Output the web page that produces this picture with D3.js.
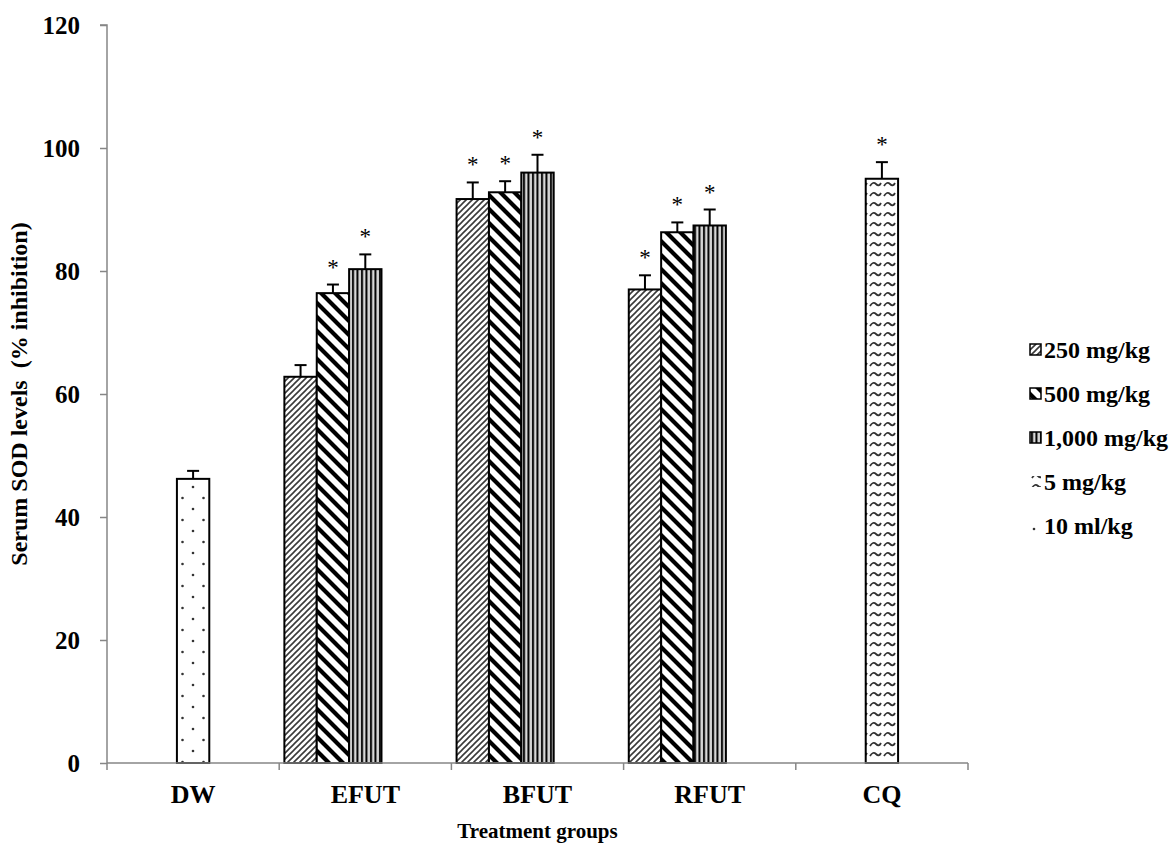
<!DOCTYPE html>
<html>
<head>
<meta charset="utf-8">
<script src="https://cdn.jsdelivr.net/npm/d3@7"></script>
<style>
  body { margin: 0; background: #fff; }
  text { font-family: "Liberation Serif", "Times New Roman", serif; }
</style>
</head>
<body>
<svg id="chart" width="1169" height="846"></svg>
<script>
let axisGray = "#868686";

// data
const groups = ["DW", "EFUT", "BFUT", "RFUT", "CQ"];
const seriesNames = ["250 mg/kg", "500 mg/kg", "1,000 mg/kg", "5 mg/kg", "10 ml/kg"];
const yTicks = [0, 20, 40, 60, 80, 100, 120];

const v250 = [null, 62.8, 91.7, 77.0, null];
const v500 = [null, 76.4, 92.8, 86.3, null];
const v1000 = [null, 80.3, 96.0, 87.4, null];
const v5 = [null, null, null, null, 95.0];
const v10 = [46.2, null, null, null, null];

const e250 = [null, 1.9, 2.7, 2.3, null];
const e500 = [null, 1.4, 1.8, 1.6, null];
const e1000 = [null, 2.4, 2.9, 2.6, null];
const e5 = [null, null, null, null, 2.7];
const e10 = [1.3, null, null, null, null];

const s250 = [false, false, true, true, false];
const s500 = [false, true, true, true, false];
const s1000 = [false, true, true, true, false];
const s5 = [false, false, false, false, true];
const s10 = [false, false, false, false, false];

// excel slot each series lands in
const slotOf = [0, 1, 2, 2, 2];

const allValues = [v250, v500, v1000, v5, v10];
const allErrors = [e250, e500, e1000, e5, e10];
const allSig = [s250, s500, s1000, s5, s10];
const patternIds = ["p250", "p500", "p1000", "p5", "p10"];

const bars = [];
allValues.forEach((vals, si) => {
  vals.forEach((v, gi) => {
    if (v == null) return;
    bars.push({ group: groups[gi], series: si, value: v, err: allErrors[si][gi], sig: allSig[si][gi] });
  });
});

const svg = d3.select("#chart");
const margin = { top: 25, left: 107, right: 201, bottom: 83 };
const W = 1169, H = 846;

const x = d3.scaleBand().domain(groups).range([margin.left, W - margin.right]).paddingInner(0).paddingOuter(0);
const slot = d3.scaleBand().domain(d3.range(5)).range([0, x.bandwidth()]).paddingOuter(0.16);
const y = d3.scaleLinear().domain([0, 120]).range([H - margin.bottom, margin.top]);

//patterns
const defs = svg.append("defs");

const p250 = defs.append("pattern").attr("id", "p250").attr("patternUnits", "userSpaceOnUse")
  .attr("width", 6).attr("height", 6);
p250.append("rect").attr("width", 6).attr("height", 6).attr("fill", "#fff");
p250.append("path").attr("d", "M0,6 L6,0 M-1.5,1.5 L1.5,-1.5 M4.5,7.5 L7.5,4.5")
  .attr("stroke", "#3a3a3a").attr("stroke-width", 1.6);

const p500 = defs.append("pattern").attr("id", "p500").attr("patternUnits", "userSpaceOnUse")
  .attr("width", 14).attr("height", 14);
p500.append("rect").attr("width", 14).attr("height", 14).attr("fill", "#fff");
p500.append("path").attr("d", "M0,0 L14,14 M-7,7 L7,21 M7,-7 L21,7")
  .attr("stroke", "#000").attr("stroke-width", 4.2);

const p1000 = defs.append("pattern").attr("id", "p1000").attr("patternUnits", "userSpaceOnUse")
  .attr("width", 4.5).attr("height", 10);
p1000.append("rect").attr("width", 4.5).attr("height", 10).attr("fill", "#d8d8d8");
p1000.append("rect").attr("x", 1).attr("width", 2).attr("height", 10).attr("fill", "#000");

const p5 = defs.append("pattern").attr("id", "p5").attr("patternUnits", "userSpaceOnUse")
  .attr("width", 14).attr("height", 10);
p5.append("rect").attr("width", 14).attr("height", 10).attr("fill", "#fff");
p5.append("path").attr("d", "M2,6 Q5,1 8,4 T13,3")
  .attr("fill", "none").attr("stroke", "#333").attr("stroke-width", 1.8);

const p10 = defs.append("pattern").attr("id", "p10").attr("patternUnits", "userSpaceOnUse")
  .attr("x", 4).attr("y", 3).attr("width", 21).attr("height", 22);
p10.append("rect").attr("width", 21).attr("height", 22).attr("fill", "#fff");
p10.append("circle").attr("cx", 0).attr("cy", 0).attr("r", 1.3).attr("fill", "#333");
p10.append("circle").attr("cx", 21).attr("cy", 0).attr("r", 1.3).attr("fill", "#333");
p10.append("circle").attr("cx", 0).attr("cy", 22).attr("r", 1.3).attr("fill", "#333");
p10.append("circle").attr("cx", 21).attr("cy", 22).attr("r", 1.3).attr("fill", "#333");
p10.append("circle").attr("cx", 10.5).attr("cy", 11).attr("r", 1.3).attr("fill", "#333");

//bars
const barX = d => x(d.group) + slot(slotOf[d.series]);

svg.selectAll(".bar")
  .data(bars)
  .enter()
  .append("rect")
  .attr("class", "bar")
  .attr("x", barX)
  .attr("y", d => y(d.value))
  .attr("width", slot.bandwidth())
  .attr("height", d => y(0) - y(d.value))
  .attr("fill", d => `url(#${patternIds[d.series]})`)
  .attr("stroke", "#000")
  .attr("stroke-width", 2);

//error bars
const eb = svg.selectAll(".err").data(bars).enter().append("g").attr("class", "err")
  .attr("stroke", "#000").attr("stroke-width", 2);
eb.append("line")
  .attr("x1", d => barX(d) + slot.bandwidth() / 2)
  .attr("x2", d => barX(d) + slot.bandwidth() / 2)
  .attr("y1", d => y(d.value))
  .attr("y2", d => y(d.value + d.err));
eb.append("line")
  .attr("x1", d => barX(d) + slot.bandwidth() / 2 - 6)
  .attr("x2", d => barX(d) + slot.bandwidth() / 2 + 6)
  .attr("y1", d => y(d.value + d.err))
  .attr("y2", d => y(d.value + d.err));

//asterisks
svg.selectAll(".star")
  .data(bars.filter(d => d.sig))
  .enter()
  .append("text")
  .attr("x", d => barX(d) + slot.bandwidth() / 2)
  .attr("y", d => y(d.value + d.err) - 10)
  .attr("text-anchor", "middle")
  .style("font-size", "23px")
  .text("*");

//y axis
const yAxis = svg.append("g")
  .attr("transform", `translate(${margin.left},0)`)
  .call(d3.axisLeft(y).tickValues(yTicks).tickSize(7).tickPadding(20));
yAxis.select(".domain").attr("stroke", axisGray).attr("stroke-width", 1.5).attr("d", `M-7,${y(120)}H0V${y(0)}`);
yAxis.selectAll(".tick line").attr("stroke", axisGray).attr("stroke-width", 1.5);
yAxis.selectAll(".tick text")
  .style("font-family", "Liberation Serif")
  .style("font-size", "25px")
  .style("font-weight", "bold")
  .attr("fill", "#000");

//x axis
const xAxis = svg.append("g").attr("transform", `translate(0,${y(0)})`);
xAxis.append("path")
  .attr("d", `M${margin.left},0H${W - margin.right}`)
  .attr("stroke", axisGray).attr("stroke-width", 1.5);
xAxis.selectAll(".xtick")
  .data(groups.concat(["end"]))
  .enter()
  .append("line")
  .attr("x1", (d, i) => i < groups.length ? x(d) : W - margin.right)
  .attr("x2", (d, i) => i < groups.length ? x(d) : W - margin.right)
  .attr("y1", 0).attr("y2", 7)
  .attr("stroke", axisGray).attr("stroke-width", 1.5);
xAxis.selectAll(".xlabel")
  .data(groups)
  .enter()
  .append("text")
  .attr("x", d => x(d) + x.bandwidth() / 2)
  .attr("y", 40)
  .attr("text-anchor", "middle")
  .style("font-size", "26px")
  .style("font-weight", "bold")
  .text(d => d);

//axis titles
svg.append("text")
  .attr("x", (margin.left + W - margin.right) / 2)
  .attr("y", 838)
  .attr("text-anchor", "middle")
  .style("font-size", "21px")
  .style("font-weight", "bold")
  .text("Treatment groups");

svg.append("text")
  .attr("transform", `translate(27,${y(60)}) rotate(-90)`)
  .attr("text-anchor", "middle")
  .style("font-size", "24px")
  .style("font-weight", "bold")
  .style("white-space", "pre")
  .attr("xml:space", "preserve")
  .text("Serum SOD levels  (% inhibition)");

//legend
const legend = svg.append("g").attr("transform", "translate(1030,350)");
const item = legend.selectAll(".item")
  .data(seriesNames)
  .enter()
  .append("g")
  .attr("transform", (d, i) => `translate(0,${i * 44})`);
item.append("rect")
  .attr("x", 0).attr("y", -6)
  .attr("width", 11).attr("height", 11)
  .attr("fill", (d, i) => `url(#${patternIds[i]})`)
  .attr("stroke", (d, i) => i < 3 ? "#000" : "none")
  .attr("stroke-width", 1.5);
item.append("text")
  .attr("x", 14)
  .attr("y", 8)
  .style("font-size", "24px")
  .style("font-weight", "bold")
  .text(d => d);
</script>
</body>
</html>
